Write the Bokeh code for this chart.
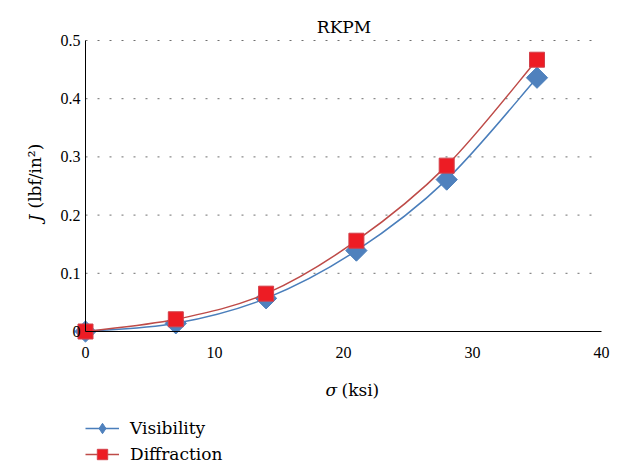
import numpy as np
from bokeh.plotting import figure
from bokeh.models import (Range1d, Label, LabelSet, Legend, LegendItem, Arrow,
                          ColumnDataSource)
from bokeh.embed import file_html
from bokeh.resources import INLINE

# ---------------- data ----------------
title_text = "RKPM"
sigma_ksi = [0, 7, 14, 21, 28, 35]
visibility = [0.0, 0.014, 0.057, 0.139, 0.261, 0.436]
diffraction = [0.0, 0.021, 0.065, 0.156, 0.285, 0.467]
series_names = ["Visibility", "Diffraction"]
x_ticks = [0, 10, 20, 30, 40]
x_tick_labels = ["0", "10", "20", "30", "40"]
y_ticks = [0, 0.1, 0.2, 0.3, 0.4, 0.5]
y_tick_labels = ["0", "0.1", "0.2", "0.3", "0.4", "0.5"]

# ---------------- layout (pixels) ----------------
W, H = 629, 464
PX_XL, PX_XR = 85, 601      # pixel columns of first / last x tick
PX_YB, PX_YT = 331, 40      # pixel rows of first / last y tick
FONT = "DejaVu Serif"

x_lo, x_hi = x_ticks[0], x_ticks[-1]
y_lo, y_hi = y_ticks[0], y_ticks[-1]
sx = (PX_XR - PX_XL) / (x_hi - x_lo)
sy = (PX_YB - PX_YT) / (y_hi - y_lo)
x_range = Range1d(x_lo - PX_XL / sx, x_lo + (W - PX_XL) / sx)
y_range = Range1d(y_lo - (H - PX_YB) / sy, y_lo + PX_YB / sy)

p = figure(width=W, height=H, x_range=x_range, y_range=y_range,
           output_backend="svg", toolbar_location=None,
           x_axis_location=None, y_axis_location=None,
           min_border=0, min_border_left=0, min_border_right=0,
           min_border_top=0, min_border_bottom=0)
p.outline_line_color = None
p.grid.visible = False
p.background_fill_color = "white"
p.border_fill_color = "white"

# dotted horizontal gridlines
for yv in y_ticks[1:]:
    p.add_layout(Arrow(x_start=x_lo, x_end=x_hi, y_start=yv, y_end=yv,
                       end=None, start=None, line_color="#6f6f6f",
                       line_width=1, line_dash="2 10"))
# axis lines
p.add_layout(Arrow(x_start=x_lo, x_end=x_hi, y_start=y_lo, y_end=y_lo,
                   end=None, start=None, line_color="black", line_width=1))
p.add_layout(Arrow(x_start=x_lo, x_end=x_lo, y_start=y_lo, y_end=y_hi,
                   end=None, start=None, line_color="black", line_width=1))

# tick labels (positioned through the data scales)
p.add_layout(LabelSet(x="x", y=H - 357, y_units="screen", text="t",
                      source=ColumnDataSource(dict(x=x_ticks, t=x_tick_labels)),
                      text_font=FONT, text_font_size="16px", text_align="center",
                      text_baseline="alphabetic", text_color="black"))
p.add_layout(LabelSet(x=PX_XL - 5, x_units="screen", y="y", y_offset=-5.5, text="t",
                      source=ColumnDataSource(dict(y=y_ticks, t=y_tick_labels)),
                      text_font=FONT, text_font_size="16px", text_align="right",
                      text_baseline="alphabetic", text_color="black"))


def bezier_source(xs, ys):
    x = np.asarray(xs, float)
    y = np.asarray(ys, float)
    xp = np.concatenate([[x[0]], x, [x[-1]]])
    yp = np.concatenate([[y[0]], y, [y[-1]]])
    return ColumnDataSource(dict(
        x0=x[:-1], y0=y[:-1], x1=x[1:], y1=y[1:],
        cx0=x[:-1] + (xp[2:-1] - xp[:-3]) / 6.0,
        cy0=y[:-1] + (yp[2:-1] - yp[:-3]) / 6.0,
        cx1=x[1:] - (xp[3:] - xp[1:-2]) / 6.0,
        cy1=y[1:] - (yp[3:] - yp[1:-2]) / 6.0,
    ))


BLUE_LINE, BLUE_FILL = "#4a7ebb", "#4f81bd"
RED_LINE, RED_FILL, RED_EDGE = "#be4b48", "#ed1c24", "#d2404a"

vis_line = p.bezier(x0="x0", y0="y0", x1="x1", y1="y1", cx0="cx0", cy0="cy0",
                    cx1="cx1", cy1="cy1", source=bezier_source(sigma_ksi, visibility),
                    line_color=BLUE_LINE, line_width=1.5)
# diamond-shaped marker used by the legend (hidden under the rotated squares)
vis_key = p.scatter(sigma_ksi, visibility, marker="diamond", size=12,
                    fill_color=BLUE_FILL, line_color=BLUE_FILL, line_width=1)
vis_pts = p.scatter(sigma_ksi, visibility, marker="square", angle=np.pi / 4, size=15,
                    fill_color=BLUE_FILL, line_color=BLUE_LINE, line_width=1)
dif_line = p.bezier(x0="x0", y0="y0", x1="x1", y1="y1", cx0="cx0", cy0="cy0",
                    cx1="cx1", cy1="cy1", source=bezier_source(sigma_ksi, diffraction),
                    line_color=RED_LINE, line_width=1.5)
dif_pts = p.scatter(sigma_ksi, diffraction, marker="square", size=15,
                    fill_color=RED_FILL, line_color=RED_EDGE, line_width=1)

legend = Legend(items=[LegendItem(label=series_names[0], renderers=[vis_line, vis_key]),
                       LegendItem(label=series_names[1], renderers=[dif_line, dif_pts])],
                location=(PX_XL, -3), orientation="vertical", glyph_width=34,
                glyph_height=26, label_height=26, label_standoff=11, spacing=-1,
                padding=0, margin=0, border_line_color=None, background_fill_alpha=0,
                label_text_font=FONT, label_text_font_size="17px",
                label_text_color="black")
p.add_layout(legend, "center")

# title
p.add_layout(Label(x=343.5, y=H - 26, x_units="screen", y_units="screen", text=title_text,
                   text_font=FONT, text_font_size="17px", text_align="center",
                   text_baseline="alphabetic", text_color="black"))
# x axis label:  σ (ksi)
p.add_layout(Label(x=325, y=H - 389, x_units="screen", y_units="screen", text="σ",
                   text_font=FONT, text_font_style="italic", text_font_size="17px",
                   text_baseline="alphabetic", text_color="black"))
p.add_layout(Label(x=341, y=H - 389, x_units="screen", y_units="screen", text="(ksi)",
                   text_font=FONT, text_font_size="17px",
                   text_baseline="alphabetic", text_color="black"))
# y axis label:  J (lbf/in²)
p.add_layout(Label(x=34, y=H - 221, x_units="screen", y_units="screen", text="J",
                   angle=np.pi / 2, text_font=FONT, text_font_style="italic",
                   text_font_size="17px", text_baseline="alphabetic", text_color="black"))
p.add_layout(Label(x=34, y=H - 208, x_units="screen", y_units="screen", text="(lbf/in²)",
                   angle=np.pi / 2, text_font=FONT, text_font_size="17px",
                   text_baseline="alphabetic", text_color="black"))

open("out.html", "w").write(file_html(p, INLINE))
